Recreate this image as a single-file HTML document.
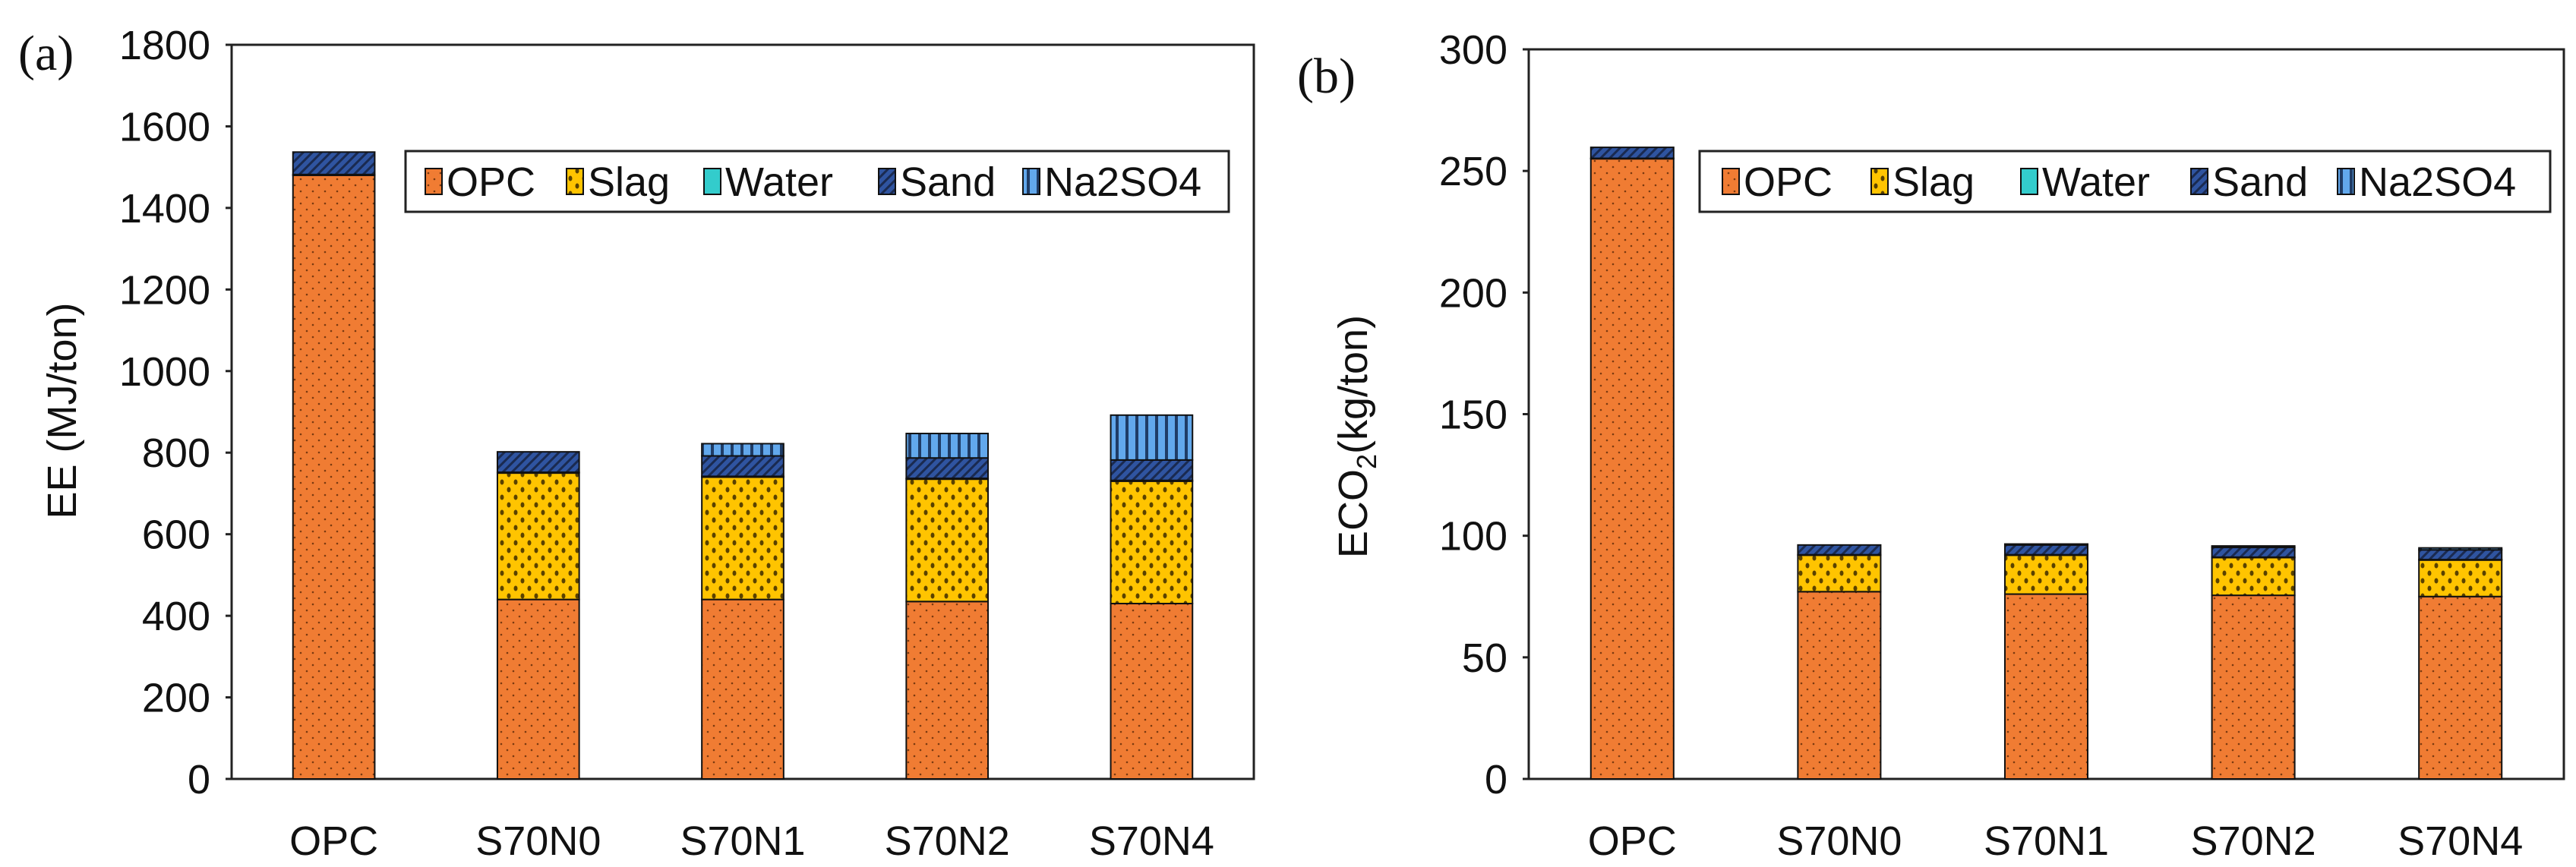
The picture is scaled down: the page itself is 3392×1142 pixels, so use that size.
<!DOCTYPE html>
<html><head><meta charset="utf-8">
<style>
html,body{margin:0;padding:0;background:#fff;}
svg{display:block;font-family:"Liberation Sans",Arial,sans-serif;}
</style></head>
<body>
<svg id="fig" width="3392" height="1142" viewBox="0 0 3392 1142" xmlns="http://www.w3.org/2000/svg">
<defs>
<pattern id="pOPC" width="16" height="16" patternUnits="userSpaceOnUse">
<rect width="16" height="16" fill="#F07C33"/><circle cx="4" cy="4" r="1.3" fill="#7a3a10"/><circle cx="12" cy="12" r="1.3" fill="#7a3a10"/></pattern>
<pattern id="pSlag" width="18" height="20" patternUnits="userSpaceOnUse">
<rect width="18" height="20" fill="#FFC400"/><ellipse cx="4" cy="5" rx="2.5" ry="3.5" fill="#5a4200"/><ellipse cx="13" cy="15" rx="2.5" ry="3.5" fill="#5a4200"/></pattern>
<pattern id="pWater" width="10" height="10" patternUnits="userSpaceOnUse"><rect width="10" height="10" fill="#33CCCC"/></pattern>
<pattern id="pSand" width="12" height="12" patternUnits="userSpaceOnUse">
<rect width="12" height="12" fill="#2F54A0"/><path d="M-3,15 L15,-3 M-3,3 L3,-3 M9,15 L15,9" stroke="#1a2a50" stroke-width="3"/></pattern>
<pattern id="pNa" width="13" height="10" patternUnits="userSpaceOnUse">
<rect width="13" height="10" fill="#62A8EC"/><rect x="0" width="4" height="10" fill="#1f3c66"/></pattern>
</defs>
<g id="chartA"></g>
<g id="chartB"></g>
</svg>
<script>
const categories = ["OPC","S70N0","S70N1","S70N2","S70N4"];
const seriesNames = ["OPC","Slag","Water","Sand","Na2SO4"];
const eeOPC = [1480,440,440,435,430];
const eeSlag = [0,310,300,300,300];
const eeWater = [2,2,2,2,2];
const eeSand = [55,50,50,50,50];
const eeNa = [0,0,30,60,110];
const eeTicks = [0,200,400,600,800,1000,1200,1400,1600,1800];
const coOPC = [255,77,76,75.5,75];
const coSlag = [0,15,16,15.5,15];
const coWater = [0.2,0.2,0.2,0.2,0.2];
const coSand = [4.5,4,4,4,4];
const coNa = [0,0,0.4,0.6,0.8];
const coTicks = [0,50,100,150,200,250,300];

const NS="http://www.w3.org/2000/svg";
const fills=["url(#pOPC)","url(#pSlag)","url(#pWater)","url(#pSand)","url(#pNa)"];
function mk(parent,tag,attrs,text){const e=document.createElementNS(NS,tag);for(const k in attrs)e.setAttribute(k,attrs[k]);if(text!==undefined)e.textContent=text;parent.appendChild(e);return e;}

function draw(g,cfg){
  const L=cfg.left,R=cfg.right,T=cfg.top,B=cfg.bottom,max=cfg.max;
  const y=v=>B-(v/max)*(B-T);
  const band=(R-L)/categories.length;
  const x=i=>L+band*(i+0.5);
  const bw=band*0.4;
  const frame=mk(g,"rect",{x:L,y:T,width:R-L,height:B-T,fill:"none",stroke:"#222","stroke-width":3});
  
  
  cfg.ticks.forEach(t=>{
    const tl=mk(g,"text",{x:L-28,y:y(t)+19,"text-anchor":"end","font-size":54,fill:"#111"},String(t));
    
    
    mk(g,"line",{x1:L-8,x2:L,y1:y(t),y2:y(t),stroke:"#222","stroke-width":3});
  });
  categories.forEach((c,i)=>{
    let base=0;
    cfg.series.forEach((arr,s)=>{
      const v=arr[i];
      if(v<=0)return;
      const r=mk(g,"rect",{x:x(i)-bw/2,y:y(base+v),width:bw,height:y(base)-y(base+v),fill:fills[s],stroke:"#111","stroke-width":2});
      
      
      base+=v;
    });
    const xl=mk(g,"text",{x:x(i),y:B+100,"text-anchor":"middle","font-size":54,fill:"#111"},c);
    
    
  });
  const lg=mk(g,"g",{});
  
  
  mk(lg,"rect",{x:cfg.lx,y:199,width:cfg.lw,height:80,fill:"#fff",stroke:"#222","stroke-width":3});
  seriesNames.forEach((n,s)=>{
    const lx=cfg.mx[s];
    const e=mk(lg,"g",{});
    
    
    mk(e,"rect",{x:lx,y:222,width:22,height:34,fill:fills[s],stroke:"#111","stroke-width":2});
    mk(e,"text",{x:lx+28,y:258,"font-size":54,fill:"#111"},n);
  });
}
draw(document.getElementById("chartA"),{left:305,right:1651,top:59,bottom:1026,max:1800,ticks:eeTicks,series:[eeOPC,eeSlag,eeWater,eeSand,eeNa],lx:534,lw:1084,mx:[560,746,927,1157,1347]});
draw(document.getElementById("chartB"),{left:2013,right:3376,top:65,bottom:1026,max:300,ticks:coTicks,series:[coOPC,coSlag,coWater,coSand,coNa],lx:2238,lw:1120,mx:[2268,2464,2661,2885,3078]});
const g=document.getElementById("fig");
const ya=mk(g,"text",{transform:"translate(100,541) rotate(-90)","text-anchor":"middle","font-size":54,fill:"#111"},"EE  (MJ/ton)");


const yb=mk(g,"text",{transform:"translate(1800,575) rotate(-90)","text-anchor":"middle","font-size":54,fill:"#111"});


yb.innerHTML='ECO<tspan font-size="36" dy="12">2</tspan><tspan dy="-12">(kg/ton)</tspan>';
const pa=mk(g,"text",{x:24,y:92,"font-size":66,"font-family":"Liberation Serif, serif",fill:"#111"},"(a)");


const pb=mk(g,"text",{x:1708,y:122,"font-size":66,"font-family":"Liberation Serif, serif",fill:"#111"},"(b)");


</script>
</body></html>
